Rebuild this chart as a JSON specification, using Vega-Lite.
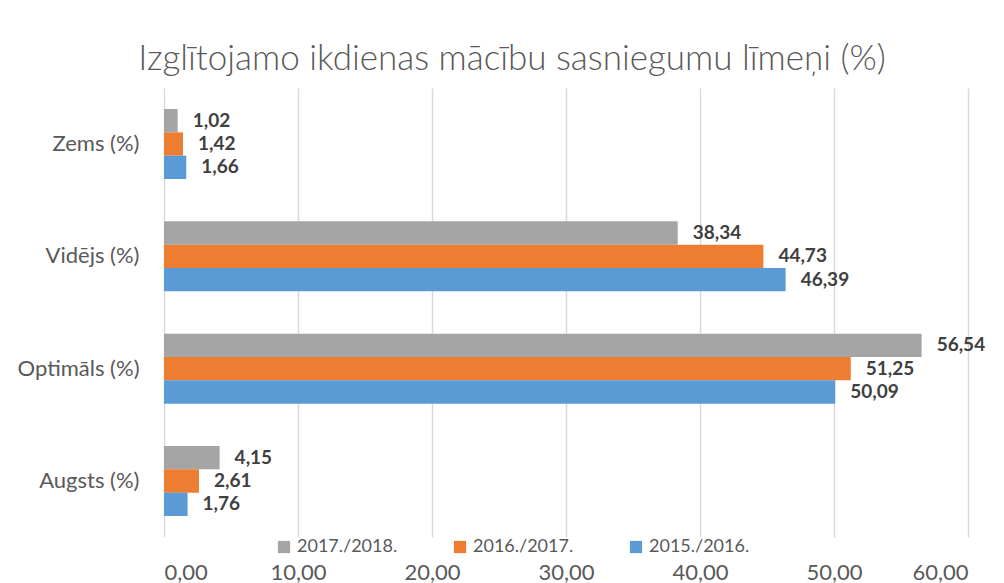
{
  "$schema": "https://vega.github.io/schema/vega-lite/v6.json",
  "width": 804,
  "height": 449,
  "autosize": "none",
  "padding": {"left": 164, "top": 88, "right": 36, "bottom": 46},
  "background": "white",
  "config": {
    "view": {"stroke": null},
    "font": "Lato",
    "locale": {"number": {"decimal": ",", "thousands": " ", "grouping": [3], "currency": ["", " €"]}}
  },
  "title": {
    "text": "Izglītojamo ikdienas mācību sasniegumu līmeņi (%)",
    "font": "Lato",
    "fontSize": 35,
    "fontWeight": 300,
    "color": "#595959",
    "anchor": "middle",
    "dx": -54,
    "offset": 11
  },
  "data": {
    "values": [
      {"category": "Zems (%)", "series": "2017./2018.", "value": 1.02},
      {"category": "Zems (%)", "series": "2016./2017.", "value": 1.42},
      {"category": "Zems (%)", "series": "2015./2016.", "value": 1.66},
      {"category": "Vidējs (%)", "series": "2017./2018.", "value": 38.34},
      {"category": "Vidējs (%)", "series": "2016./2017.", "value": 44.73},
      {"category": "Vidējs (%)", "series": "2015./2016.", "value": 46.39},
      {"category": "Optimāls (%)", "series": "2017./2018.", "value": 56.54},
      {"category": "Optimāls (%)", "series": "2016./2017.", "value": 51.25},
      {"category": "Optimāls (%)", "series": "2015./2016.", "value": 50.09},
      {"category": "Augsts (%)", "series": "2017./2018.", "value": 4.15},
      {"category": "Augsts (%)", "series": "2016./2017.", "value": 2.61},
      {"category": "Augsts (%)", "series": "2015./2016.", "value": 1.76}
    ]
  },
  "encoding": {
    "y": {
      "field": "category",
      "type": "nominal",
      "sort": ["Zems (%)", "Vidējs (%)", "Optimāls (%)", "Augsts (%)"],
      "scale": {"paddingInner": 0.377, "paddingOuter": 0.187},
      "axis": {
        "title": null,
        "labelFontSize": 22,
        "labelColor": "#595959",
        "labelPadding": 25,
        "domain": false,
        "ticks": false
      }
    },
    "x": {
      "field": "value",
      "type": "quantitative",
      "scale": {"domain": [0, 60], "nice": false},
      "axis": {
        "title": null,
        "values": [0, 10, 20, 30, 40, 50, 60],
        "format": ".2f",
        "grid": true,
        "gridColor": "#D9D9D9",
        "gridWidth": 1.5,
        "domain": false,
        "ticks": false,
        "labelPadding": 25,
        "labelFontSize": 22,
        "labelColor": "#595959"
      }
    },
    "yOffset": {
      "field": "series",
      "type": "nominal",
      "sort": ["2017./2018.", "2016./2017.", "2015./2016."]
    }
  },
  "layer": [
    {
      "mark": {"type": "bar"},
      "encoding": {
        "color": {
          "field": "series",
          "type": "nominal",
          "scale": {
            "domain": ["2017./2018.", "2016./2017.", "2015./2016."],
            "range": ["#A5A5A5", "#ED7D31", "#5B9BD5"]
          },
          "legend": {
            "title": null,
            "orient": "none",
            "legendX": 111,
            "legendY": 450,
            "direction": "horizontal",
            "symbolType": "square",
            "symbolSize": 150,
            "symbolStrokeWidth": 0,
            "symbolOffset": 0,
            "labelFontSize": 18,
            "labelColor": "#595959",
            "labelOffset": 4,
            "columnPadding": 53
          }
        }
      }
    },
    {
      "mark": {
        "type": "text",
        "align": "left",
        "baseline": "middle",
        "dx": 15,
        "fontSize": 19,
        "fontWeight": "bold",
        "color": "#404040"
      },
      "encoding": {
        "text": {"field": "value", "type": "quantitative", "format": ".2f"}
      }
    }
  ]
}
